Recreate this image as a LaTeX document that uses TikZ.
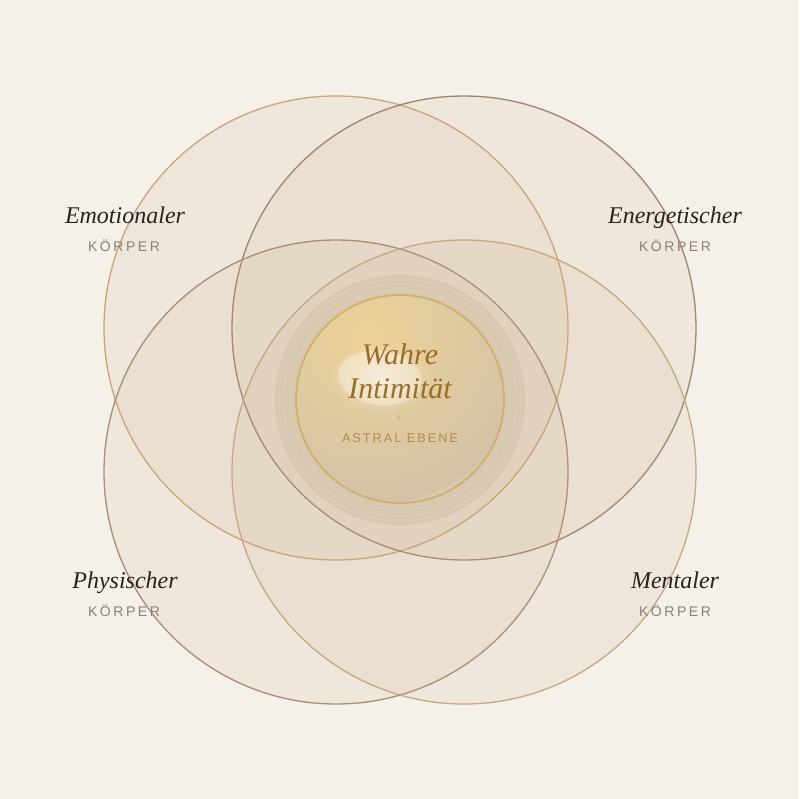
\documentclass[tikz,border=0pt]{standalone}
\usepackage{fontspec}
\setmainfont{Liberation Serif}
\newfontfamily\labelsans[LetterSpace=18]{Liberation Sans}
\newfontfamily\astralsans[LetterSpace=16]{Liberation Sans}
\usetikzlibrary{fadings}
\definecolor{bg}{HTML}{F5F0E8}
\definecolor{ringgold}{HTML}{C8A878}
\definecolor{ringbrown}{HTML}{A08670}
\definecolor{ringbrownb}{HTML}{A88E76}
\definecolor{ringgoldb}{HTML}{C4AA84}
\definecolor{circfill}{RGB}{200,170,130}
\definecolor{titlecol}{HTML}{2A221C}
\definecolor{subcol}{HTML}{8A8078}
\definecolor{centertxt}{HTML}{9A6C26}
\definecolor{astralcol}{HTML}{B08C4E}
\definecolor{glowcol}{RGB}{210,194,168}
\definecolor{sphereedge}{HTML}{D0AE6C}
\definecolor{spherelight}{HTML}{ECD296}
\definecolor{spheredark}{HTML}{D4C2A8}
\tikzfading[name=softfade, inner color=transparent!0, outer color=transparent!100]
\tikzset{
  venn/.style={line width=1pt, fill=circfill, fill opacity=0.12},
  bodyname/.style={font=\itshape\fontsize{18}{20}\selectfont, text=titlecol, inner sep=0pt, anchor=base},
  bodysub/.style={font=\labelsans\fontsize{10.5}{12}\selectfont, text=subcol, inner sep=0pt, anchor=base},
  centername/.style={font=\itshape\fontsize{22.5}{24}\selectfont, text=centertxt, inner sep=0pt, anchor=base},
  x=0.75pt, y=-0.75pt
}
\begin{document}
\begin{tikzpicture}
\fill[bg] (0,0) rectangle (799,799);
\useasboundingbox (0,0) rectangle (799,799);
% four circles
\draw[venn, draw=ringgold] (336,328) circle (232);
\draw[venn, draw=ringbrown] (464,328) circle (232);
\draw[venn, draw=ringbrownb] (336,472) circle (232);
\draw[venn, draw=ringgoldb] (464,472) circle (232);
% glow
\fill[glowcol, opacity=0.6] (400,400) circle (125);
\draw[white, opacity=0.18, line width=0.6pt] (400,400) circle (121);
\draw[white, opacity=0.15, line width=0.6pt] (400,400) circle (116);
\draw[white, opacity=0.12, line width=0.6pt] (400,400) circle (110);
% sphere
\begin{scope}
\clip (400,399) circle (104);
\shade[inner color=spherelight, outer color=spheredark] (368,335) circle (170);
\fill[white, opacity=0.5, path fading=softfade, rotate around={-8:(380,378)}] (380,378) ellipse (50 and 34);
\fill[white, opacity=0.3, rotate around={-8:(380,378)}] (380,378) ellipse (42 and 27);
\end{scope}
\draw[sphereedge, line width=1.35pt] (400,399) circle (104);
% center text
\node[centername] (wahre) at (400,364) {Wahre};
\node[centername] (intim) at (400,398) {Intimität};
\node[font=\fontsize{9}{10}\selectfont, text=astralcol!80, inner sep=0pt] (plus) at (399,418) {+};
\node[font=\astralsans\fontsize{9.5}{11}\selectfont, text=astralcol, inner sep=0pt, anchor=base] (astral) at (400,442) {ASTRAL EBENE};
% labels
\node[bodyname] (emo) at (125,223) {Emotionaler};
\node[bodysub] (emok) at (124,251) {KÖRPER};
\node[bodyname] (ener) at (675,223) {Energetischer};
\node[bodysub] (enerk) at (675,251) {KÖRPER};
\node[bodyname] (phys) at (125,588) {Physischer};
\node[bodysub] (physk) at (124,616) {KÖRPER};
\node[bodyname] (ment) at (675,588) {Mentaler};
\node[bodysub] (mentk) at (675,616) {KÖRPER};
\end{tikzpicture}
\end{document}
